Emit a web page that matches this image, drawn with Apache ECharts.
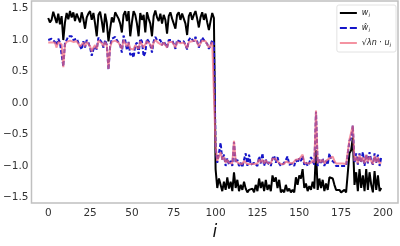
<!DOCTYPE html>
<html><head><meta charset="utf-8">
<script src="https://cdn.jsdelivr.net/npm/echarts@6/dist/echarts.min.js"></script>
<style>html,body{margin:0;padding:0;background:#fff}#c{width:400px;height:246px}</style>
</head><body><div id="c"></div>
<script>
// black: w_i
const wTrue = [
1.35,1.28,1.32,1.45,1.36,1.27,1.42,1.25,1.38,1.00,
1.28,1.43,1.33,1.46,1.36,1.44,1.30,1.42,1.35,1.28,
1.44,1.33,1.18,1.36,1.42,1.46,1.32,1.43,1.26,1.06,
1.40,1.45,1.30,1.12,1.42,1.27,0.98,1.18,1.36,1.28,
1.44,1.46,1.34,1.26,1.12,1.40,1.46,1.30,1.46,1.06,
1.28,1.46,1.40,1.26,1.06,1.43,1.32,1.40,1.12,1.44,
1.34,1.26,1.06,1.38,1.47,1.36,1.30,1.42,1.26,1.40,
1.32,1.10,1.38,1.44,1.34,1.26,1.18,1.40,1.44,1.32,
1.42,1.34,1.26,1.08,1.38,1.44,1.32,1.40,1.46,1.34,
1.20,1.36,1.44,1.32,1.42,1.28,1.16,1.30,1.43,1.35,
-1.05,-1.35,-1.20,-1.30,-1.40,-1.25,-1.38,-1.18,-1.36,-1.25,
-1.40,-1.10,-1.35,-1.22,-1.40,-1.30,-1.38,-1.25,-1.36,-1.42,
-1.38,-1.40,-1.36,-1.42,-1.30,-1.40,-1.20,-1.35,-1.25,-1.40,
-1.22,-1.38,-1.30,-1.40,-1.15,-1.25,-1.18,-1.35,-1.22,-1.42,
-1.38,-1.42,-1.30,-1.40,-1.36,-1.42,-1.38,-1.42,-1.18,-1.30,
-1.15,-1.20,-1.05,-1.35,-1.28,-1.40,-1.32,-1.38,-1.25,-1.36,
-0.75,-1.38,-1.20,-1.35,-1.22,-1.40,-1.28,-1.38,-1.18,-1.15,
-1.20,-1.30,-1.38,-1.40,-1.38,-1.42,-1.40,-1.38,-1.42,-1.40,
-0.80,-0.75,-0.55,-1.30,-1.10,-1.40,-1.05,-1.35,-1.15,-1.40,
-1.05,-1.38,-1.10,-1.30,-1.42,-1.08,-1.38,-1.15,-1.40,-1.35
];
// blue dashed: w-hat_i
const wHat = [
1.00,0.98,1.02,1.00,0.97,0.92,1.02,0.96,0.95,0.58,
0.95,1.00,1.06,1.04,1.06,1.00,0.98,1.02,0.96,0.90,
0.85,0.98,0.88,1.00,0.96,0.88,0.75,0.85,0.90,0.85,
1.04,1.00,0.96,0.88,1.00,0.92,0.53,0.90,1.02,1.00,
1.05,1.00,0.98,0.92,0.80,1.07,1.00,0.84,0.97,0.76,
0.80,0.72,0.92,0.96,0.78,1.02,0.98,0.74,0.80,1.02,
0.98,0.92,0.80,0.98,1.05,1.00,0.97,1.00,0.92,0.98,
0.95,0.88,1.00,1.03,1.00,0.94,0.86,1.00,1.03,0.97,
1.00,0.98,0.92,0.85,1.00,1.04,1.02,0.98,1.05,0.98,
0.88,0.96,1.04,1.00,1.02,0.94,0.86,0.92,1.00,0.95,
-0.70,-0.95,-0.80,-0.63,-0.90,-0.82,-1.00,-0.88,-0.98,-0.92,
-1.00,-0.62,-0.95,-0.90,-1.00,-0.95,-1.02,-0.90,-0.80,-1.00,
-0.82,-0.98,-1.00,-0.95,-0.92,-1.00,-0.85,-0.96,-0.80,-1.00,
-0.90,-0.98,-0.94,-1.00,-0.88,-0.84,-0.95,-0.86,-0.96,-1.00,
-0.98,-0.95,-0.90,-0.85,-0.98,-1.00,-0.96,-1.00,-0.90,-0.95,
-0.88,-0.92,-0.84,-0.98,-0.94,-1.00,-0.95,-0.86,-0.92,-0.98,
-0.14,-1.00,-0.90,-0.95,-0.88,-1.00,-0.92,-0.98,-0.80,-0.90,
-0.88,-0.95,-1.00,-0.98,-1.00,-0.97,-1.00,-0.98,-1.00,-0.98,
-0.60,-0.55,-0.36,-0.95,-0.80,-0.98,-0.80,-0.95,-0.78,-1.00,
-0.82,-0.96,-0.78,-0.92,-0.98,-0.80,-0.95,-0.82,-1.00,-0.86
];
// pink: sqrt(lambda n) * u_i
const uScaled = [
0.96,0.94,0.96,0.99,0.96,0.88,0.97,0.94,0.93,0.57,
0.93,0.97,1.00,0.99,1.00,0.97,0.96,0.98,0.95,0.90,
0.88,0.96,0.90,0.97,0.95,0.90,0.82,0.88,0.92,0.86,
0.99,0.97,0.95,0.90,0.97,0.92,0.54,0.89,0.97,0.96,
0.99,0.98,0.96,0.93,0.86,1.00,0.98,0.90,0.96,0.86,
0.88,0.85,0.92,0.95,0.86,0.98,0.96,0.88,0.88,0.98,
0.96,0.93,0.86,0.96,1.00,0.97,0.95,0.97,0.92,0.96,
0.94,0.88,0.97,0.99,0.97,0.93,0.88,0.97,0.99,0.95,
0.97,0.96,0.92,0.87,0.97,0.99,0.98,0.95,1.00,0.96,
0.90,0.95,0.99,0.97,0.98,0.93,0.88,0.92,0.97,0.94,
-0.68,-0.92,-0.85,-0.78,-0.90,-0.86,-0.95,-0.90,-0.95,-0.92,
-0.96,-0.60,-0.92,-0.90,-0.96,-0.94,-0.97,-0.92,-0.95,-0.97,
-0.96,-0.97,-0.96,-0.97,-0.94,-0.96,-0.90,-0.94,-0.90,-0.96,
-0.91,-0.95,-0.93,-0.96,-0.88,-0.90,-0.89,-0.93,-0.91,-0.97,
-0.96,-0.97,-0.93,-0.96,-0.95,-0.97,-0.96,-0.97,-0.90,-0.93,
-0.89,-0.90,-0.82,-0.95,-0.93,-0.96,-0.94,-0.95,-0.91,-0.95,
-0.12,-0.96,-0.90,-0.94,-0.90,-0.96,-0.92,-0.95,-0.88,-0.86,
-0.85,-0.92,-0.96,-0.97,-0.96,-0.97,-0.96,-0.95,-0.97,-0.96,
-0.58,-0.55,-0.36,-0.92,-0.85,-0.96,-0.82,-0.93,-0.86,-0.96,
-0.82,-0.94,-0.85,-0.92,-0.97,-0.84,-0.94,-0.86,-0.96,-0.94
];
const xTicks = [0,25,50,75,100,125,150,175,200];
const yTicks = [-1.5,-1.0,-0.5,0.0,0.5,1.0,1.5];
const idx = wTrue.map((_, k) => k);

const font = 'DejaVu Sans';
const pinkC = 'rgba(240,105,125,0.72)';
const blueC = '#1515c8';
const chart = echarts.init(document.getElementById('c'), null, {renderer:'canvas'});
const pair = arr => idx.map(k => [k, arr[k]]);
const solidIcon = 'path://M0,0H17V2H0Z';
const dashIcon = 'path://M0,0H7V2H0Z M10,0H17V2H10Z';
chart.setOption({
  animation: false,
  backgroundColor: '#fff',
  grid: {left: 27, right: 2, top: 1, bottom: 27, show: true, borderColor: '#c0c0c0', borderWidth: 1.5, backgroundColor: 'transparent'},
  xAxis: {
    type: 'value', min: -10, max: 209,
    name: 'i', nameLocation: 'middle', nameGap: 17,
    nameTextStyle: {fontFamily: font, fontStyle: 'italic', fontSize: 17, color: '#111'},
    axisLine: {show: false}, axisTick: {show: false}, splitLine: {show: false},
    axisLabel: {customValues: xTicks, fontFamily: font, fontSize: 10.5, color: '#333', margin: 5}
  },
  yAxis: {
    type: 'value', min: -1.59, max: 1.62,
    axisLine: {show: false}, axisTick: {show: false}, splitLine: {show: false},
    axisLabel: {customValues: yTicks, fontFamily: font, fontSize: 10.5, color: '#333', margin: 3,
      formatter: v => v.toFixed(1).replace('-', '\u2212')}
  },
  legend: {
    right: 4, top: 5, orient: 'vertical', itemWidth: 17, itemHeight: 2, itemGap: 3,
    padding: [2, 5, 3, 3],
    backgroundColor: 'rgba(255,255,255,0.85)', borderColor: '#e2e2e2', borderWidth: 1, borderRadius: 2,
    textStyle: {fontFamily: font, fontSize: 8, color: '#222', lineHeight: 12,
      rich: {
        it: {fontFamily: font, fontStyle: 'italic', fontSize: 8, color: '#222'},
        sub: {fontFamily: font, fontStyle: 'italic', fontSize: 5.5, color: '#222', padding: [5, 0, 0, 0]},
        rm: {fontFamily: font, fontSize: 8, color: '#222'}
      }},
    formatter: n => n === 'w' ? '{it|w}{sub|i}' : n === 'what' ? '{it|ŵ}{sub|i}' : '{rm|√}{it|λn} {rm|·} {it|u}{sub|i}',
    data: [{name: 'w', icon: solidIcon}, {name: 'what', icon: dashIcon}, {name: 'u', icon: solidIcon}]
  },
  series: [
    {name: 'w', type: 'line', data: pair(wTrue), symbol: 'none', z: 2,
      lineStyle: {color: '#000', width: 2}, itemStyle: {color: '#000'}},
    {name: 'what', type: 'line', data: pair(wHat), symbol: 'none', z: 3,
      lineStyle: {color: blueC, width: 2, type: [4, 2]}, itemStyle: {color: blueC}},
    {name: 'u', type: 'line', data: pair(uScaled), symbol: 'none', z: 4,
      lineStyle: {color: pinkC, width: 2}, itemStyle: {color: pinkC}}
  ]
});
</script></body></html>
